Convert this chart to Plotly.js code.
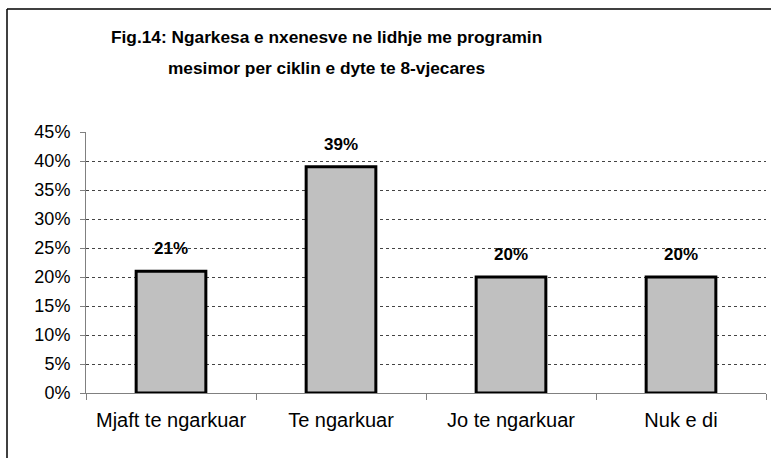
<!DOCTYPE html>
<html>
<head>
<meta charset="utf-8">
<script src="https://cdn.plot.ly/plotly-3.0.1.min.js"></script>
<style>html,body{margin:0;padding:0;background:#fff;}#chart{width:771px;height:458px;}</style>
</head>
<body>
<div id="chart"></div>
<script>
const categories = ["Mjaft te ngarkuar", "Te ngarkuar", "Jo te ngarkuar", "Nuk e di"];
const values = [21, 39, 20, 20];
const valueLabels = ["21%", "39%", "20%", "20%"];
const yTickValues = [0, 5, 10, 15, 20, 25, 30, 35, 40, 45];
const titleLines = ["Fig.14: Ngarkesa e nxenesve ne lidhje me programin", "mesimor per ciklin e dyte te 8-vjecares"];

const FONT = "Liberation Sans, Arial, sans-serif";
const PLOT_L = 86, PLOT_R = 766, PLOT_T = 132, PLOT_B = 393;
const px2x = p => (p - PLOT_L) / (PLOT_R - PLOT_L);
const py2y = p => (PLOT_B - p) / (PLOT_B - PLOT_T);

const trace = {
  type: "bar",
  x: categories,
  y: values,
  width: 0.41,
  marker: {color: "#C0C0C0", line: {color: "#000000", width: 3}},
  hoverinfo: "none"
};

const annotations = categories.map((c, i) => ({
  x: c, y: values[i], xref: "x", yref: "y",
  text: "<b>" + valueLabels[i] + "</b>",
  showarrow: false, yanchor: "bottom", yshift: 11,
  font: {family: FONT, size: 17, color: "#000"}
}));

const titleY = [37, 68];
titleLines.forEach((t, i) => annotations.push({
  xref: "paper", yref: "paper",
  x: px2x(326), y: py2y(titleY[i]),
  xanchor: "center", yanchor: "middle",
  text: "<b>" + t + "</b>", showarrow: false,
  font: {family: FONT, size: 17.3, color: "#000"}
}));

const layout = {
  width: 771, height: 458,
  margin: {l: PLOT_L, r: 771 - PLOT_R, t: PLOT_T, b: 458 - PLOT_B},
  paper_bgcolor: "#ffffff", plot_bgcolor: "#ffffff",
  showlegend: false,
  bargap: 0.59,
  xaxis: {
    type: "category",
    showline: true, linecolor: "#808080", linewidth: 1,
    ticks: "outside", tickson: "boundaries", ticklen: 6, tickcolor: "#808080",
    showgrid: false, zeroline: false,
    tickfont: {family: FONT, size: 20, color: "#000"},
    ticklabelstandoff: 9,
    fixedrange: true
  },
  yaxis: {
    range: [0, 45],
    tickvals: yTickValues,
    ticktext: yTickValues.map(v => v + "%"),
    showline: true, linecolor: "#808080", linewidth: 1,
    ticks: "outside", ticklen: 5, tickcolor: "#808080",
    showgrid: true, gridcolor: "#444444", gridwidth: 1, griddash: "3px,3px",
    zeroline: false,
    tickfont: {family: FONT, size: 18, color: "#000"},
    ticklabelstandoff: 6,
    fixedrange: true
  },
  annotations: annotations,
  shapes: [
    {type: "line", xref: "paper", yref: "paper",
     x0: px2x(7), x1: px2x(7), y0: py2y(470), y1: py2y(9),
     line: {color: "#000000", width: 1.5}},
    {type: "line", xref: "paper", yref: "paper",
     x0: px2x(7), x1: px2x(780), y0: py2y(9), y1: py2y(9),
     line: {color: "#000000", width: 1.5}}
  ]
};

Plotly.newPlot("chart", [trace], layout, {displayModeBar: false, staticPlot: true});
</script>
</body>
</html>
